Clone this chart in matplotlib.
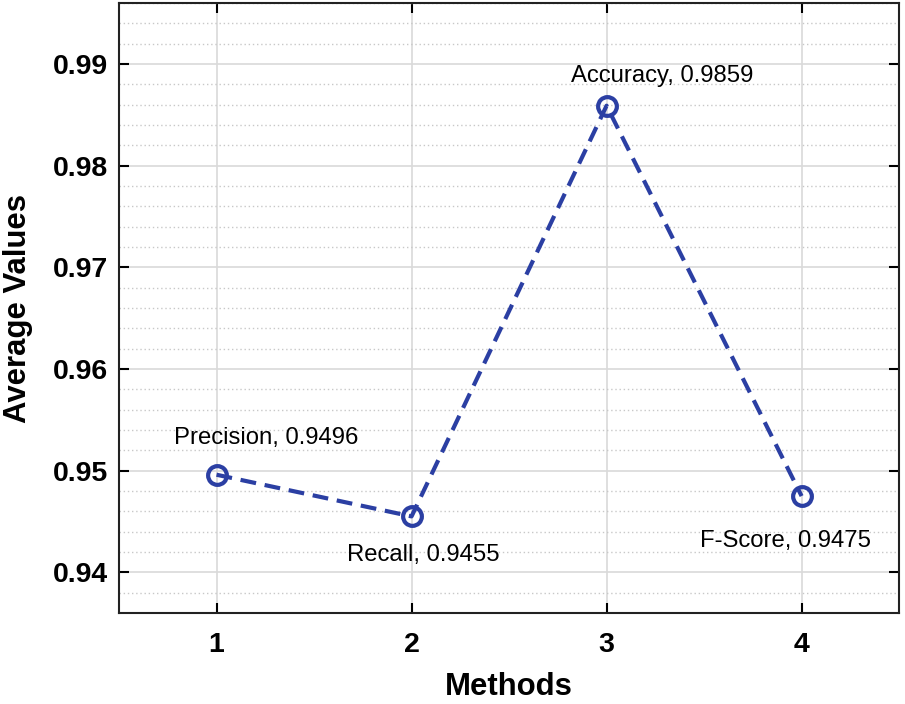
import matplotlib
matplotlib.use("Agg")
import matplotlib.pyplot as plt
from matplotlib.ticker import MultipleLocator

methods = [1, 2, 3, 4]
values = [0.9496, 0.9455, 0.9859, 0.9475]
names = ["Precision", "Recall", "Accuracy", "F-Score"]
xticks = [1, 2, 3, 4]
yticks = [0.94, 0.95, 0.96, 0.97, 0.98, 0.99]

plt.rcParams['font.family'] = ['Liberation Sans', 'DejaVu Sans']
fig = plt.figure(figsize=(9.05, 7.04), dpi=100)
ax = fig.add_axes([0.1315, 0.1293, 0.862, 0.8664])

color = "#2b3fa3"
ax.plot(methods, values, linestyle=(0, (3.8, 2.1)), color=color, linewidth=3.0,
        marker='o', markersize=13.5, markerfacecolor='none', markeredgewidth=3.0, zorder=3)

offsets = [(-43, 31), (-65, -45), (-36, 24), (-102, -51)]
for x, v, n, (dx, dy) in zip(methods, values, names, offsets):
    ax.annotate(f"{n}, {v:.4f}", (x, v), xytext=(dx, dy), textcoords='offset pixels',
                fontsize=17.2, ha='left', va='baseline', color='black')

ax.set_xlim(0.5, 4.5)
ax.set_ylim(0.936, 0.996)
ax.set_xticks(xticks)
ax.set_yticks(yticks)
ax.set_yticklabels([f"{t:.2f}" for t in yticks])
ax.yaxis.set_minor_locator(MultipleLocator(0.002))
ax.grid(True, which='major', color='#d9d9d9', linewidth=1.2)
ax.grid(True, which='minor', axis='y', color='#c8c8c8', linestyle=(0, (1, 2)), linewidth=1)
ax.tick_params(which='major', direction='in', length=7, width=1.5, top=True, right=True,
               labelsize=20.5)
ax.tick_params(axis='x', pad=14)
ax.tick_params(axis='y', pad=8)
ax.tick_params(which='minor', length=0)
for lab in ax.get_xticklabels() + ax.get_yticklabels():
    lab.set_fontweight('bold')
for s in ax.spines.values():
    s.set_linewidth(1.5)
    s.set_color('#222222')
ax.set_xlabel("Methods", fontsize=22.4, fontweight='bold', labelpad=10)
ax.set_ylabel("Average Values", fontsize=22.4, fontweight='bold', labelpad=14)
ax.set_axisbelow(True)

fig.savefig("out.png", dpi=100)
